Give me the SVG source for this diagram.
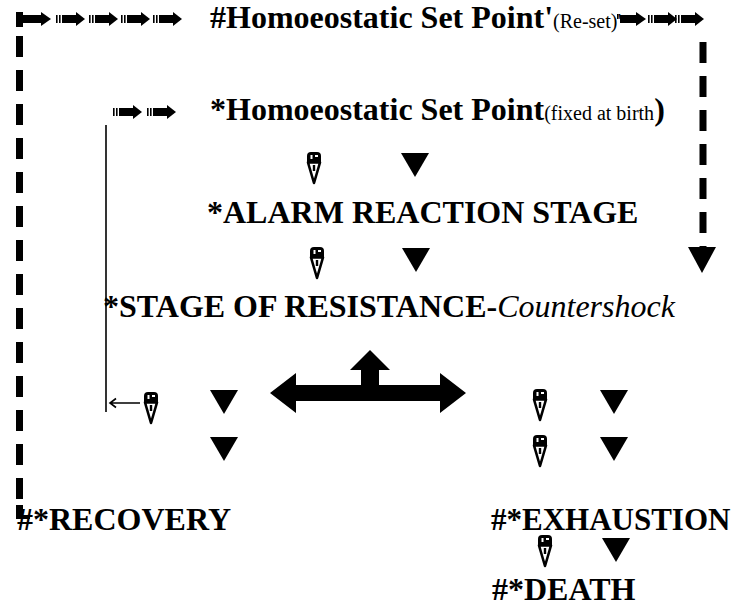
<svg xmlns="http://www.w3.org/2000/svg" width="737" height="608" viewBox="0 0 737 608">
<style>
text{font-family:"Liberation Serif",Tinos,"Times New Roman",Times,"Nimbus Roman","DejaVu Serif",serif}
.t{font-weight:bold;font-size:32px;fill:#000}
.s{font-weight:normal;font-size:20px}
.i{font-weight:normal;font-style:italic}
.dash{stroke:#000;stroke-width:7;fill:none;stroke-dasharray:21 13}
.thin{stroke:#000;stroke-width:1.6;fill:none}
</style>
<defs>
<symbol id="darr" overflow="visible">
<rect x="0" y="-4" width="1.6" height="8"/>
<rect x="3" y="-4" width="1.6" height="8"/>
<rect x="6" y="-4" width="15" height="8"/>
<path d="M20,-7 L29,0 L20,7 Z"/>
</symbol>
<symbol id="tri" overflow="visible">
<path d="M-14,0 L14,0 L0,24 Z"/>
</symbol>
<symbol id="gl" overflow="visible">
<path d="M-7,3 Q-7,-1 -3,-1 L3,-1 Q7,-1 7,3 L7,9 L-7,9 Z" fill="#000"/>
<rect x="-3.5" y="2" width="2" height="4" fill="#fff"/>
<rect x="1" y="2" width="3" height="2" fill="#fff"/>
<path d="M-6,9.5 L6,9.5 L0,30 Z" fill="none" stroke="#000" stroke-width="2.6" stroke-linejoin="round"/>
<rect x="-1.2" y="12" width="2.4" height="6"/>
</symbol>
</defs>
<g id="connectors">
<g id="top-left-arrows">
<rect x="16" y="12" width="7" height="15"/>
<rect x="22" y="15" width="20" height="8"/>
<path d="M41,12 L51,19 L41,26 Z"/>
<use href="#darr" x="56" y="19"/>
<use href="#darr" x="89" y="19"/>
<use href="#darr" x="121" y="19"/>
<use href="#darr" x="153" y="19"/>
</g>
<path class="dash" d="M19.5,36 V512"/>
<path d="M16,505 h7 v10 h7 v4 h-14 Z"/>
<g id="top-right-arrows">
<rect x="617" y="14" width="1.5" height="5"/>
<rect x="620" y="15" width="17" height="8"/>
<path d="M636,12 L646,19 L636,26 Z"/>
<use href="#darr" x="648" y="19"/>
<use href="#darr" x="675" y="19"/>
</g>
<path class="dash" d="M703,42 V248"/>
<path d="M688,247 L716,247 L702,273 Z"/>
<g id="inner-arrows">
<use href="#darr" x="113" y="112"/>
<use href="#darr" x="147" y="112"/>
</g>
<path class="thin" d="M106,125 V412"/>
<path class="thin" d="M140,403 H110 M116,398.5 L110,403 L116,407.5"/>
<use href="#gl" x="151" y="393"/>
<use href="#gl" x="314" y="153"/>
<use href="#tri" x="415" y="153"/>
<use href="#gl" x="317" y="248"/>
<use href="#tri" x="416" y="248"/>
<path d="M370,350 L390,370 L379,370 L379,386 L361,386 L361,370 L350,370 Z"/>
<path d="M270,393 L296,373 L296,385 L440,385 L440,373 L466,393 L440,413 L440,401 L296,401 L296,413 Z"/>
<use href="#tri" x="224" y="390"/>
<use href="#tri" x="224" y="437"/>
<use href="#gl" x="540" y="390"/>
<use href="#tri" x="614" y="390"/>
<use href="#gl" x="540" y="436"/>
<use href="#tri" x="614" y="437"/>
<use href="#gl" x="545" y="536"/>
<use href="#tri" x="616" y="538"/>
</g>
<g id="node-reset"><text class="t" x="210" y="28" font-size="31">#Homoeostatic Set Point'<tspan class="s">(Re-set)'</tspan></text></g>
<g id="node-setpoint"><text class="t" x="210" y="120">*Homoeostatic Set Point<tspan class="s">(fixed at birth</tspan>)</text></g>
<g id="node-alarm"><text class="t" x="207" y="223">*ALARM REACTION STAGE</text></g>
<g id="node-resistance"><text class="t" x="103" y="317">*STAGE OF RESISTANCE-<tspan class="i">Countershock</tspan></text></g>
<g id="node-recovery"><text class="t" x="17" y="530">#*RECOVERY</text></g>
<g id="node-exhaustion"><text class="t" x="491" y="530" style="font-size:31px">#*EXHAUSTION</text></g>
<g id="node-death"><text class="t" x="492" y="600">#*DEATH</text></g>
</svg>
